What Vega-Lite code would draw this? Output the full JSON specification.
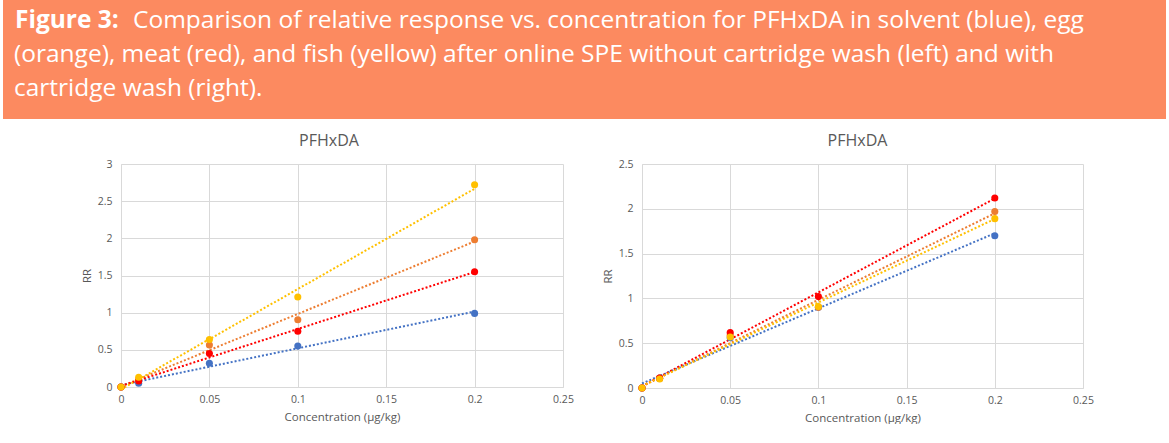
{
  "$schema": "https://vega.github.io/schema/vega-lite/v6.json",
  "background": "white",
  "padding": {"left": 3, "top": 0, "right": 0, "bottom": 0},
  "config": {
    "view": {"stroke": null},
    "axis": {
      "labelFont": "Open Sans",
      "labelFontSize": 10.5,
      "labelColor": "#595959",
      "labelFlush": false,
      "titleFont": "Open Sans",
      "titleFontSize": 11.5,
      "titleFontWeight": "normal",
      "titleColor": "#595959",
      "gridColor": "#d9d9d9",
      "domainColor": "#d9d9d9",
      "ticks": false
    },
    "axisX": {"labelPadding": 7, "titlePadding": 7},
    "axisY": {"labelPadding": 9, "titlePadding": 5},
    "title": {"font": "Open Sans", "fontSize": 16, "fontWeight": "normal", "color": "#595959", "offset": 10}
  },
  "datasets": {
    "caption": [
      {"line": 1, "part": "lead", "text": "Figure 3:"},
      {"line": 1, "part": "body", "text": "Comparison of relative response vs. concentration for PFHxDA in solvent (blue), egg"},
      {"line": 2, "part": "body", "text": "(orange), meat (red), and fish (yellow) after online SPE without cartridge wash (left) and with"},
      {"line": 3, "part": "body", "text": "cartridge wash (right)."}
    ],
    "nowash": [
      {"sample": "solvent", "conc": 0, "rr": 0},
      {"sample": "solvent", "conc": 0.01, "rr": 0.05},
      {"sample": "solvent", "conc": 0.05, "rr": 0.32},
      {"sample": "solvent", "conc": 0.1, "rr": 0.55},
      {"sample": "solvent", "conc": 0.2, "rr": 0.99},
      {"sample": "egg", "conc": 0, "rr": 0},
      {"sample": "egg", "conc": 0.01, "rr": 0.10},
      {"sample": "egg", "conc": 0.05, "rr": 0.565},
      {"sample": "egg", "conc": 0.1, "rr": 0.905},
      {"sample": "egg", "conc": 0.2, "rr": 1.98},
      {"sample": "meat", "conc": 0, "rr": 0},
      {"sample": "meat", "conc": 0.01, "rr": 0.08},
      {"sample": "meat", "conc": 0.05, "rr": 0.45},
      {"sample": "meat", "conc": 0.1, "rr": 0.75},
      {"sample": "meat", "conc": 0.2, "rr": 1.55},
      {"sample": "fish", "conc": 0, "rr": 0},
      {"sample": "fish", "conc": 0.01, "rr": 0.13},
      {"sample": "fish", "conc": 0.05, "rr": 0.64},
      {"sample": "fish", "conc": 0.1, "rr": 1.21},
      {"sample": "fish", "conc": 0.2, "rr": 2.72}
    ],
    "wash": [
      {"sample": "solvent", "conc": 0, "rr": 0},
      {"sample": "solvent", "conc": 0.01, "rr": 0.11},
      {"sample": "solvent", "conc": 0.05, "rr": 0.56},
      {"sample": "solvent", "conc": 0.1, "rr": 0.90},
      {"sample": "solvent", "conc": 0.2, "rr": 1.70},
      {"sample": "egg", "conc": 0, "rr": 0},
      {"sample": "egg", "conc": 0.01, "rr": 0.11},
      {"sample": "egg", "conc": 0.05, "rr": 0.59},
      {"sample": "egg", "conc": 0.1, "rr": 0.90},
      {"sample": "egg", "conc": 0.2, "rr": 1.97},
      {"sample": "meat", "conc": 0, "rr": 0},
      {"sample": "meat", "conc": 0.01, "rr": 0.11},
      {"sample": "meat", "conc": 0.05, "rr": 0.62},
      {"sample": "meat", "conc": 0.1, "rr": 1.02},
      {"sample": "meat", "conc": 0.2, "rr": 2.12},
      {"sample": "fish", "conc": 0, "rr": 0},
      {"sample": "fish", "conc": 0.01, "rr": 0.10},
      {"sample": "fish", "conc": 0.05, "rr": 0.57},
      {"sample": "fish", "conc": 0.1, "rr": 0.91},
      {"sample": "fish", "conc": 0.2, "rr": 1.89}
    ]
  },
  "spacing": 14,
  "vconcat": [
    {
      "width": 1163,
      "height": 119,
      "view": {"fill": "#fc8a60", "stroke": null},
      "data": {"name": "caption"},
      "encoding": {
        "x": {"datum": 0, "type": "quantitative", "scale": {"domain": [0, 1]}, "axis": null},
        "y": {"field": "line", "type": "ordinal", "axis": null, "scale": {"type": "point", "padding": 0.75, "align": 0.549}},
        "text": {"field": "text"}
      },
      "layer": [
        {
          "transform": [{"filter": "datum.part === 'lead'"}],
          "mark": {"type": "text", "font": "Open Sans", "fontSize": 24.5, "fontWeight": "bold", "color": "white", "align": "left", "baseline": "alphabetic", "dx": 12}
        },
        {
          "transform": [{"filter": "datum.part === 'body' && datum.line === 1"}],
          "mark": {"type": "text", "font": "Open Sans", "fontSize": 24.5, "color": "white", "align": "left", "baseline": "alphabetic", "dx": 130}
        },
        {
          "transform": [{"filter": "datum.line > 1"}],
          "mark": {"type": "text", "font": "Open Sans", "fontSize": 24.5, "color": "white", "align": "left", "baseline": "alphabetic", "dx": 11}
        }
      ]
    },
    {
      "spacing": 28,
      "hconcat": [
        {
          "width": 50,
          "height": 1,
          "data": {"values": [{}]},
          "mark": {"type": "text"},
          "encoding": {"text": {"value": ""}}
        },
        {
          "width": 442,
          "height": 223,
          "title": {"text": "PFHxDA", "dx": -13},
          "data": {"name": "nowash"},
          "encoding": {
            "x": {"field": "conc", "type": "quantitative", "scale": {"domain": [0, 0.25], "nice": false},
                  "axis": {"values": [0, 0.05, 0.1, 0.15, 0.2, 0.25], "format": "~g", "title": "Concentration (µg/kg)"}},
            "y": {"field": "rr", "type": "quantitative", "scale": {"domain": [0, 3], "nice": false},
                  "axis": {"values": [0, 0.5, 1, 1.5, 2, 2.5, 3], "format": "~g", "title": "RR"}},
            "color": {"field": "sample", "type": "nominal", "legend": null,
                      "scale": {"domain": ["solvent", "egg", "meat", "fish"], "range": ["#4472c4", "#ed7d31", "#ff0000", "#ffc000"]}}
          },
          "layer": [
            {
              "transform": [{"regression": "rr", "on": "conc", "groupby": ["sample"]}],
              "mark": {"type": "line", "strokeDash": [2, 2], "strokeWidth": 2}
            },
            {
              "mark": {"type": "circle", "size": 50, "opacity": 1}
            }
          ]
        },
        {
          "width": 441,
          "height": 224,
          "title": {"text": "PFHxDA", "dx": -5},
          "data": {"name": "wash"},
          "encoding": {
            "x": {"field": "conc", "type": "quantitative", "scale": {"domain": [0, 0.25], "nice": false},
                  "axis": {"values": [0, 0.05, 0.1, 0.15, 0.2, 0.25], "format": "~g", "title": "Concentration (µg/kg)"}},
            "y": {"field": "rr", "type": "quantitative", "scale": {"domain": [0, 2.5], "nice": false},
                  "axis": {"values": [0, 0.5, 1, 1.5, 2, 2.5], "format": "~g", "title": "RR"}},
            "color": {"field": "sample", "type": "nominal", "legend": null,
                      "scale": {"domain": ["solvent", "egg", "meat", "fish"], "range": ["#4472c4", "#ed7d31", "#ff0000", "#ffc000"]}}
          },
          "layer": [
            {
              "transform": [{"regression": "rr", "on": "conc", "groupby": ["sample"]}],
              "mark": {"type": "line", "strokeDash": [2, 2], "strokeWidth": 2}
            },
            {
              "mark": {"type": "circle", "size": 50, "opacity": 1}
            }
          ]
        }
      ]
    }
  ]
}
